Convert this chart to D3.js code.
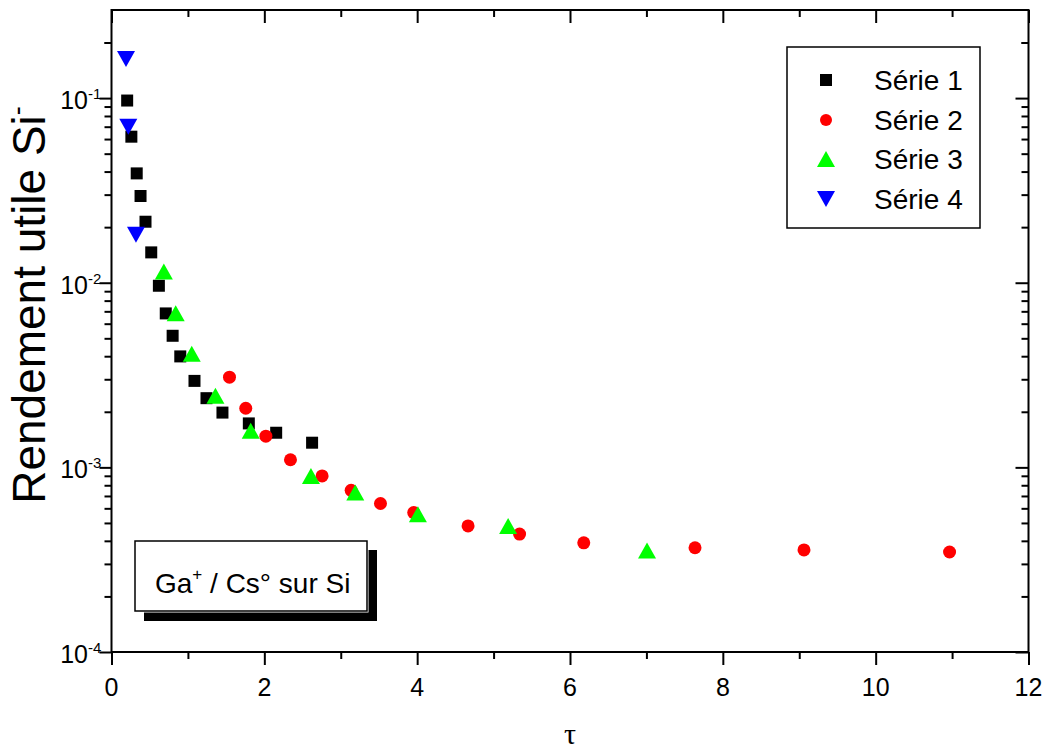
<!DOCTYPE html>
<html><head><meta charset="utf-8">
<script src="https://cdn.jsdelivr.net/npm/d3@7"></script>
<style>
body{margin:0;background:#fff;}
svg{display:block;}
text{font-family:"Liberation Sans",Arial,sans-serif;fill:#000;}
</style></head>
<body><svg id="c" width="1049" height="749"></svg>
<script>
// ---- data ----
const s1x = [0.205,0.26,0.33,0.38,0.445,0.52,0.62,0.71,0.80,0.90,1.086,1.243,1.452,1.797,2.155,2.625];
const s1y = [0.097,0.0618,0.0391,0.0295,0.0214,0.0146,0.00963,0.00682,0.00516,0.00399,0.00294,0.00237,0.00198,0.00173,0.00154,0.00136];
const s2x = [1.544,1.757,2.02,2.342,2.756,3.136,3.52,3.955,4.666,5.34,6.18,7.636,9.062,10.967];
const s2y = [0.00308,0.00209,0.001476,0.0011,0.000899,0.000751,0.000637,0.000569,0.000482,0.000435,0.00039,0.000367,0.000357,0.000348];
const s3x = [0.685,0.84,1.05,1.36,1.822,2.61,3.19,4.01,5.19,7.008];
const s3y = [0.0115,0.00683,0.00413,0.00244,0.00158,0.000899,0.00073,0.000557,0.000482,0.000355];
const s4x = [0.19,0.22,0.32];
const s4y = [0.163,0.070,0.0182];
const seriesNames = ["Série 1","Série 2","Série 3","Série 4"];
const xMajorTicks = [0,2,4,6,8,10,12];
const xMinorTicks = [1,3,5,7,9,11];
const yMajorExp = [-4,-3,-2,-1];
const xTitle = "τ";
const yTitle = "Rendement utile Si";
const boxLabel = ["Ga","+"," / Cs° sur Si"];

// ---- layout ----
const L=111.5, R=1028.5, T=10, B=652;
const svg = d3.select("#c");
const x = d3.scaleLinear().domain([0,12]).range([L,R]);
const y = d3.scaleLog().domain([1e-4,0.3]).range([B,T]);

const yMinor = [];
for (const e of yMajorExp) for (let k=2;k<=9;k++){ const v=k*Math.pow(10,e); if (v<=0.3) yMinor.push(v); }
yMinor.push(0.2);

function axisStyle(g){ g.selectAll("path").remove(); g.selectAll("line").attr("stroke","#000").attr("stroke-width",2); g.selectAll("text").remove(); }

// bottom (outward)
svg.append("g").attr("transform",`translate(0,${B})`).call(d3.axisBottom(x).tickValues(xMajorTicks).tickSize(13)).call(axisStyle);
svg.append("g").attr("transform",`translate(0,${B})`).call(d3.axisBottom(x).tickValues(xMinorTicks).tickSize(7)).call(axisStyle);
// top (inward)
svg.append("g").attr("transform",`translate(0,${T})`).call(d3.axisBottom(x).tickValues(xMajorTicks).tickSize(13)).call(axisStyle);
svg.append("g").attr("transform",`translate(0,${T})`).call(d3.axisBottom(x).tickValues(xMinorTicks).tickSize(7)).call(axisStyle);
// left (outward)
svg.append("g").attr("transform",`translate(${L},0)`).call(d3.axisLeft(y).tickValues(yMajorExp.map(e=>Math.pow(10,e))).tickSize(12)).call(axisStyle);
svg.append("g").attr("transform",`translate(${L},0)`).call(d3.axisLeft(y).tickValues(yMinor).tickSize(7)).call(axisStyle);
// right (inward)
svg.append("g").attr("transform",`translate(${R},0)`).call(d3.axisLeft(y).tickValues(yMajorExp.map(e=>Math.pow(10,e))).tickSize(13)).call(axisStyle);
svg.append("g").attr("transform",`translate(${R},0)`).call(d3.axisLeft(y).tickValues(yMinor).tickSize(7)).call(axisStyle);

// frame
svg.append("rect").attr("x",L).attr("y",T).attr("width",R-L).attr("height",B-T)
  .attr("fill","none").attr("stroke","#000").attr("stroke-width",2);

// x tick labels
svg.append("g").selectAll("text").data(xMajorTicks).join("text")
  .attr("x",d=>x(d)).attr("y",696).attr("text-anchor","middle").attr("font-size",25).text(d=>d);

// y tick labels with superscript
yMajorExp.forEach(e=>{
  svg.append("text").attr("x",88).attr("y",y(Math.pow(10,e))+11).attr("text-anchor","end").attr("font-size",25).text("10");
  svg.append("text").attr("x",88).attr("y",y(Math.pow(10,e))+1).attr("font-size",15).text("-"+Math.abs(e));
});

// titles
svg.append("text").attr("x",(L+R)/2).attr("y",744).attr("text-anchor","middle")
  .style("font-family","'Liberation Serif','DejaVu Serif',serif").attr("font-size",30).text(xTitle);
const yt = svg.append("text").attr("transform","translate(45,305) rotate(-90)").attr("text-anchor","middle").attr("font-size",46);
yt.append("tspan").text(yTitle);
yt.append("tspan").attr("dy",-19).attr("font-size",27).text("-");

// symbols
function sq(s){return `M${-s/2},${-s/2}h${s}v${s}h${-s}Z`;}
function triUp(w,h){return `M0,${-h/2}L${w/2},${h/2}L${-w/2},${h/2}Z`;}
function triDn(w,h){return `M0,${h/2}L${w/2},${-h/2}L${-w/2},${-h/2}Z`;}
const marks = [
  {xs:s1x, ys:s1y, d:sq(12), c:"#000"},
  {xs:s2x, ys:s2y, d:"circle", c:"#ff0000"},
  {xs:s3x, ys:s3y, d:triUp(18,16), c:"#00ff00"},
  {xs:s4x, ys:s4y, d:triDn(18,16), c:"#0000ff"}
];
marks.forEach(m=>{
  const pts = m.xs.map((v,i)=>[v,m.ys[i]]);
  const g = svg.append("g");
  if (m.d==="circle") {
    g.selectAll("circle").data(pts).join("circle").attr("cx",d=>x(d[0])).attr("cy",d=>y(d[1])).attr("r",6.5).attr("fill",m.c);
  } else {
    g.selectAll("path").data(pts).join("path").attr("transform",d=>`translate(${x(d[0])},${y(d[1])})`).attr("d",m.d).attr("fill",m.c);
  }
});

// legend
const lg = svg.append("g");
lg.append("rect").attr("x",787).attr("y",47).attr("width",193).attr("height",181).attr("fill","#fff").attr("stroke","#000").attr("stroke-width",1.5);
const rowsY = [80,120,159,199];
marks.forEach((m,i)=>{
  if (m.d==="circle") lg.append("circle").attr("cx",826).attr("cy",rowsY[i]).attr("r",6).attr("fill",m.c);
  else lg.append("path").attr("transform",`translate(826,${rowsY[i]})`).attr("d",m.d).attr("fill",m.c);
  lg.append("text").attr("x",874).attr("y",rowsY[i]+10).attr("font-size",28).text(seriesNames[i]);
});

// annotation box with shadow
const bx=135, by=541, bw=232, bh=70;
svg.append("rect").attr("x",bx+9).attr("y",by+9).attr("width",bw+1).attr("height",bh+1).attr("fill","#000");
svg.append("rect").attr("x",bx-1).attr("y",by-1).attr("width",bw+2.5).attr("height",bh+2.5).attr("fill","#fff");
svg.append("rect").attr("x",bx).attr("y",by).attr("width",bw).attr("height",bh).attr("fill","#fff").attr("stroke","#000").attr("stroke-width",1.5);
const bt = svg.append("text").attr("x",155).attr("y",593).attr("font-size",28);
bt.append("tspan").text(boxLabel[0]);
bt.append("tspan").attr("dy",-13).attr("font-size",17).text(boxLabel[1]);
bt.append("tspan").attr("dy",13).text(boxLabel[2]);
</script></body></html>
